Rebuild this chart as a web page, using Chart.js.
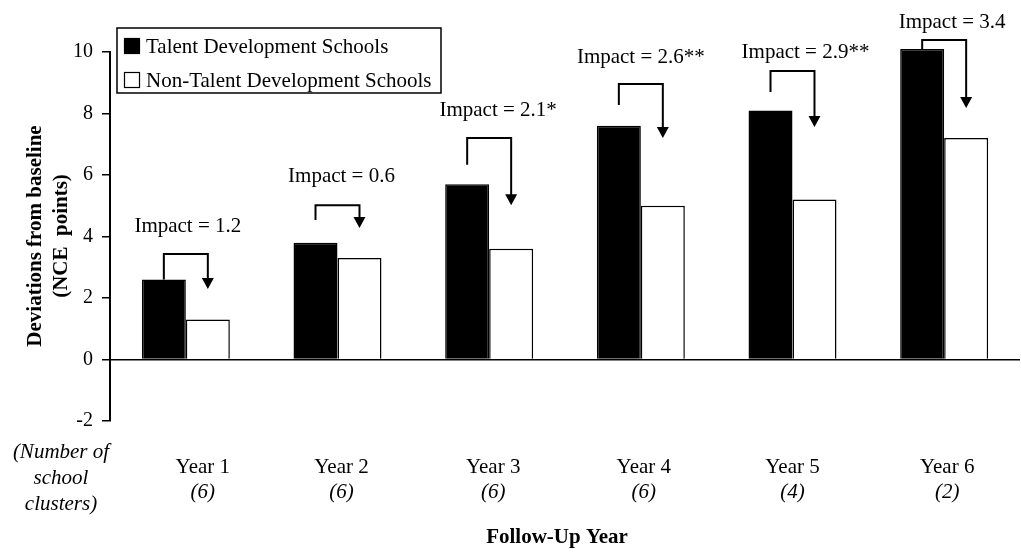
<!DOCTYPE html>
<html>
<head>
<meta charset="utf-8">
<script src="https://cdn.jsdelivr.net/npm/chart.js@4.4.1/dist/chart.umd.min.js"></script>
<style>
  html, body { margin: 0; padding: 0; background: #fff; }
  canvas { display: block; }
</style>
</head>
<body>
<canvas id="chart" width="1021" height="560"></canvas>
<script>
const years = ['Year 1', 'Year 2', 'Year 3', 'Year 4', 'Year 5', 'Year 6'];
const clusterCounts = ['(6)', '(6)', '(6)', '(6)', '(4)', '(2)'];
const talentScores = [2.6, 3.8, 5.7, 7.6, 8.1, 10.1];
const nonTalentScores = [1.3, 3.3, 3.6, 5.0, 5.2, 7.2];
const impactLabels = ['Impact = 1.2', 'Impact = 0.6', 'Impact = 2.1*', 'Impact = 2.6**', 'Impact = 2.9**', 'Impact = 3.4'];
const yTicks = [-2, 0, 2, 4, 6, 8, 10];

// bracket arrows, in data units (where they start, their top, arrow tip, label baseline)
const bracketFrom = [2.6, 4.54, 6.33, 8.28, 8.7, 10.1];
const bracketTop = [3.43, 5.02, 7.2, 8.96, 9.38, 10.39];
const arrowTip = [2.29, 4.28, 5.02, 7.2, 7.56, 8.18];
const labelLevel = [4.15, 5.77, 7.92, 9.64, 9.8, 10.78];

const serif = "'Liberation Serif', 'DejaVu Serif', serif";

const extras = {
    id: 'extras',
    afterDraw(chart) {
        const ctx = chart.ctx;
        const x = chart.scales.x;
        const y = chart.scales.y;
        const black = chart.getDatasetMeta(0).data;
        const white = chart.getDatasetMeta(1).data;

        ctx.save();
        ctx.fillStyle = '#000';
        ctx.strokeStyle = '#000';

        // impact brackets
        const textNudge = [2, 4, 9, 0, 13, 8];
        for (let i = 0; i < years.length; i++) {
            const x1 = black[i].x;
            const x2 = white[i].x;
            const yTop = y.getPixelForValue(bracketTop[i]);
            const yTip = y.getPixelForValue(arrowTip[i]);
            ctx.lineWidth = 2;
            ctx.beginPath();
            ctx.moveTo(x1, y.getPixelForValue(bracketFrom[i]));
            ctx.lineTo(x1, yTop);
            ctx.lineTo(x2, yTop);
            ctx.lineTo(x2, yTip - 10);
            ctx.stroke();
            ctx.beginPath();
            ctx.moveTo(x2 - 6, yTip - 11);
            ctx.lineTo(x2 + 6, yTip - 11);
            ctx.lineTo(x2, yTip);
            ctx.closePath();
            ctx.fill();

            ctx.font = '21px ' + serif;
            ctx.textAlign = 'center';
            ctx.textBaseline = 'alphabetic';
            ctx.fillText(impactLabels[i], (x1 + x2) / 2 + textNudge[i], y.getPixelForValue(labelLevel[i]));
        }

        // category labels with cluster counts
        const labelNudge = [17, 4, 4, 3, 0, 3];
        for (let i = 0; i < years.length; i++) {
            const cx = x.getPixelForValue(i) + labelNudge[i];
            ctx.textAlign = 'center';
            ctx.font = '21px ' + serif;
            ctx.fillText(years[i], cx, 473);
            ctx.font = 'italic 21px ' + serif;
            ctx.fillText(clusterCounts[i], cx, 498);
        }
        ctx.font = 'italic 21px ' + serif;
        ctx.fillText('(Number of', 61, 458);
        ctx.fillText('school', 61, 484);
        ctx.fillText('clusters)', 61, 510);

        ctx.font = 'bold 21px ' + serif;
        ctx.fillText('Follow-Up Year', 557, 543);

        // y axis title
        ctx.save();
        ctx.translate(41, 236);
        ctx.rotate(-Math.PI / 2);
        ctx.fillText('Deviations from baseline', 0, 0);
        ctx.restore();
        ctx.save();
        ctx.translate(67, 236);
        ctx.rotate(-Math.PI / 2);
        ctx.fillText('(NCE  points)', 0, 0);
        ctx.restore();

        // legend box
        ctx.lineWidth = 1.5;
        ctx.strokeRect(117, 28, 324, 65);
        const sets = chart.data.datasets;
        for (let k = 0; k < sets.length; k++) {
            const top = 38 + k * 34;
            ctx.fillStyle = sets[k].backgroundColor;
            ctx.fillRect(124, top, 16, 16);
            ctx.strokeStyle = '#000';
            ctx.lineWidth = 1.2;
            ctx.strokeRect(124.5, top + 0.5, 15, 15);
            ctx.fillStyle = '#000';
            ctx.font = '21px ' + serif;
            ctx.textAlign = 'left';
            ctx.fillText(sets[k].label, 146, top + 15);
        }
        ctx.restore();
    }
};

new Chart(document.getElementById('chart'), {
    type: 'bar',
    data: {
        labels: years,
        datasets: [
            {
                label: 'Talent Development Schools',
                data: talentScores,
                backgroundColor: '#000',
                borderColor: '#000',
                borderWidth: 1.5,
                clip: false
            },
            {
                label: 'Non-Talent Development Schools',
                data: nonTalentScores,
                backgroundColor: '#fff',
                borderColor: '#000',
                borderWidth: 1.5,
                clip: false
            }
        ]
    },
    options: {
        responsive: false,
        animation: false,
        layout: { padding: { left: 0, right: 1, top: 52, bottom: 139 } },
        datasets: { bar: { categoryPercentage: 0.58, barPercentage: 1.0 } },
        plugins: {
            legend: { display: false },
            tooltip: { enabled: false }
        },
        scales: {
            x: { display: false },
            y: {
                min: -2,
                max: 10,
                afterBuildTicks: scale => { scale.ticks = yTicks.map(v => ({ value: v })); },
                afterFit: scale => { scale.width = 110; },
                ticks: {
                    color: '#000',
                    padding: 9,
                    font: { family: serif, size: 20 }
                },
                grid: {
                    drawOnChartArea: true,
                    color: c => (c.tick && c.tick.value === 0 ? '#000' : 'rgba(0,0,0,0)'),
                    lineWidth: 1.5,
                    tickColor: '#000',
                    tickWidth: 1.5,
                    tickLength: 8
                },
                border: { display: true, color: '#000', width: 2 }
            }
        }
    },
    plugins: [extras]
});
</script>
</body>
</html>
